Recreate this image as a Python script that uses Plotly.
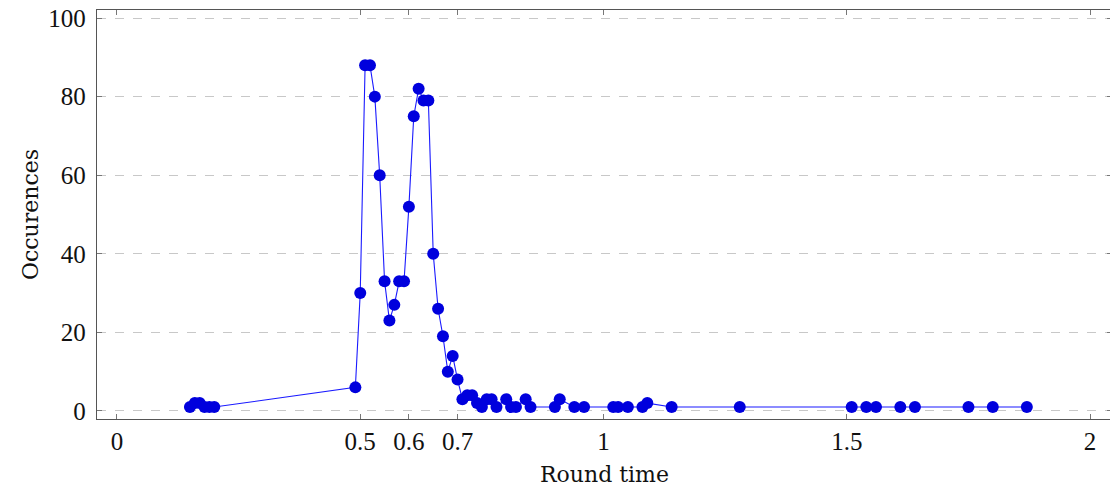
import plotly.graph_objects as go

round_time = [0.15, 0.16, 0.17, 0.18, 0.19, 0.20, 0.49, 0.50, 0.51, 0.52,
              0.53, 0.54, 0.55, 0.56, 0.57, 0.58, 0.59, 0.60, 0.61, 0.62,
              0.63, 0.64, 0.65, 0.66, 0.67, 0.68, 0.69, 0.70, 0.71, 0.72,
              0.73, 0.74, 0.75, 0.76, 0.77, 0.78, 0.80, 0.81, 0.82, 0.84,
              0.85, 0.90, 0.91, 0.94, 0.96, 1.02, 1.03, 1.05, 1.08, 1.09,
              1.14, 1.28, 1.51, 1.54, 1.56, 1.61, 1.64, 1.75, 1.80, 1.87]
occurences = [1, 2, 2, 1, 1, 1, 6, 30, 88, 88,
              80, 60, 33, 23, 27, 33, 33, 52, 75, 82,
              79, 79, 40, 26, 19, 10, 14, 8, 3, 4,
              4, 2, 1, 3, 3, 1, 3, 1, 1, 3,
              1, 1, 3, 1, 1, 1, 1, 1, 1, 2,
              1, 1, 1, 1, 1, 1, 1, 1, 1, 1]

x_ticks = [0, 0.5, 0.6, 0.7, 1, 1.5, 2]
x_tick_labels = ["0", "0.5", "0.6", "0.7", "1", "1.5", "2"]
y_ticks = [0, 20, 40, 60, 80, 100]

fig = go.Figure()
fig.add_trace(go.Scatter(
    x=round_time, y=occurences, mode="lines+markers",
    line=dict(color="#1a1aff", width=1.1),
    marker=dict(color="#0000dd", size=12, line=dict(width=0)),
    showlegend=False,
))

axis_common = dict(
    showline=True, linecolor="#555555", linewidth=1.3, mirror="ticks",
    ticks="inside", ticklen=5, tickcolor="#777777", tickwidth=1,
    zeroline=False, automargin=False,
    tickfont=dict(family="Liberation Serif", size=25, color="#111111"),
)

fig.update_xaxes(
    range=[-0.041, 2.045], tickvals=x_ticks, ticktext=x_tick_labels,
    showgrid=False, ticklabelstandoff=0,
    title=dict(text="Round time", font=dict(family="DejaVu Serif", size=22, color="#111111"), standoff=12),
    **axis_common,
)
fig.update_yaxes(
    range=[-2.05, 102.05], tickvals=y_ticks,
    showgrid=True, gridcolor="#c8c8c8", griddash="dash", gridwidth=1,
    ticklabelstandoff=5,
    title=dict(text="Occurences", font=dict(family="DejaVu Serif", size=22, color="#111111"), standoff=3),
    **axis_common,
)

fig.update_layout(
    width=1112, height=493,
    margin=dict(l=97, r=0, t=10, b=74),
    plot_bgcolor="white", paper_bgcolor="white",
)

fig.write_html(
    "out.html",
    config={"displayModeBar": False},
    post_script="document.body.style.margin='0';document.body.style.overflow='hidden';",
)
